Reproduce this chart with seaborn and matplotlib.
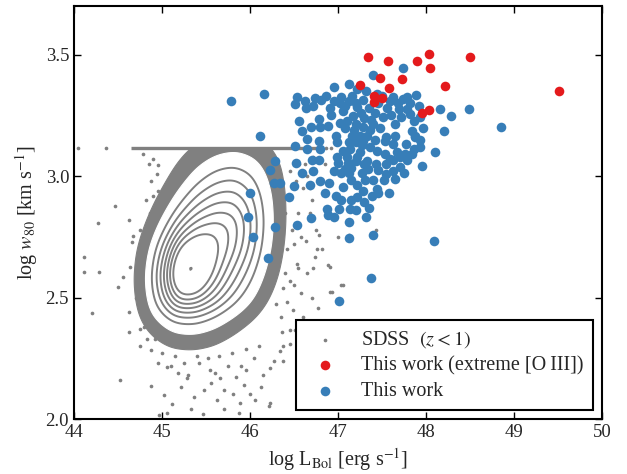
import numpy as np
import pandas as pd
import seaborn as sb
from matplotlib import pyplot as plt
from matplotlib.colors import ListedColormap
from matplotlib.patches import Rectangle

# ---- SDSS comparison sample (z < 1) ----
# binned counts of the dense core (rows = w80 bins)
sdss_grid_lbol = [44.8, 45.0, 45.2, 45.4, 45.6, 45.8, 46.0, 46.2, 46.4]
sdss_grid_w80 = [2.3, 2.4, 2.5, 2.6, 2.7, 2.8, 2.9, 3.0, 3.1]
sdss_counts = [
    [0, 1, 3, 4, 3, 1, 0, 0, 0],
    [3, 18, 45, 50, 35, 15, 4, 0, 0],
    [12, 85, 190, 180, 130, 80, 38, 7, 0],
    [18, 110, 250, 240, 170, 115, 70, 20, 1],
    [14, 80, 200, 215, 185, 150, 100, 34, 2],
    [5, 35, 105, 150, 165, 160, 110, 40, 3],
    [1, 12, 45, 90, 115, 120, 92, 36, 3],
    [0, 3, 16, 42, 65, 75, 60, 24, 2],
    [0, 1, 5, 14, 25, 30, 22, 8, 1],
]

# objects piled up at the w80 upper limit
sdss_cap_w80 = 3.114
sdss_cap_lbol_range = [44.65, 46.76]
sdss_cap_lbol_extra = [44.04, 44.36, 46.80, 46.86, 46.92]

# scattered SDSS objects outside the dense core
sdss_lbol = [44.47, 44.27, 44.11, 44.11, 44.28, 44.21, 44.50, 44.52, 44.62, 44.62,
             44.87, 44.75, 44.63, 44.97, 45.06, 44.75, 44.80, 44.80, 44.77, 44.94,
             44.84, 44.75, 44.67, 44.66, 44.75, 44.72, 44.80, 44.64, 44.75, 44.56,
             44.96, 44.94, 44.96, 44.85, 44.70, 44.82, 44.88, 44.90, 44.85, 44.78,
             46.27, 46.34, 46.45, 46.53, 46.23, 46.13, 46.00, 45.81, 45.66, 45.55,
             45.89, 46.23, 45.11, 45.36, 45.47, 45.70, 45.88, 46.06, 46.22, 45.22,
             45.56, 45.84, 45.06, 44.95, 46.15, 46.38, 44.88, 45.02, 45.28, 45.42,
             45.75, 45.95, 46.05, 45.15, 45.62, 45.33, 45.93, 45.48, 45.18, 45.70,
             46.64, 46.76, 46.91, 46.74, 47.06, 46.91, 47.00, 46.53, 46.45, 46.38,
             46.30, 46.49, 46.45, 46.38, 46.60, 46.60, 46.70, 46.55, 47.43, 47.12,
             46.89, 46.79, 46.75, 47.04, 46.93, 46.77, 46.51, 46.58, 46.65, 46.68,
             46.62, 46.72, 46.65,
             46.42, 46.48, 46.40, 46.46, 46.52, 46.56, 46.45, 46.50, 46.55, 46.42,
             46.35, 46.40, 46.58, 46.68, 46.85, 46.72, 46.82, 46.70, 46.50, 46.36,
             44.86, 44.88, 44.83, 44.86, 44.90, 44.92, 44.83, 44.90, 44.86, 44.92,
             45.00, 45.10, 45.25, 45.40, 45.52, 45.65, 45.80, 45.95, 46.10, 45.30,
             45.60, 45.90]
sdss_w80 = [2.878, 2.808, 2.668, 2.607, 2.607, 2.436, 2.542, 2.162, 2.820, 2.440,
            2.134, 2.300, 2.360, 2.018, 2.025, 2.370, 2.380, 2.480, 2.430, 2.865,
            2.800, 2.780, 2.755, 2.730, 2.690, 2.660, 2.660, 2.626, 2.605, 2.585,
            2.940, 3.010, 3.045, 2.550, 2.500, 2.900, 2.980, 3.070, 3.050, 3.090,
            2.240, 2.280, 2.310, 2.370, 2.210, 2.130, 2.105, 2.105, 2.170, 2.200,
            2.065, 2.065, 2.060, 2.090, 2.020, 2.040, 2.025, 2.080, 2.055, 2.130,
            2.150, 2.175, 2.216, 2.230, 2.180, 2.240, 2.285, 2.100, 2.170, 2.230,
            2.220, 2.200, 2.250, 2.260, 2.080, 2.040, 2.140, 2.120, 2.190, 2.120,
            2.735, 2.700, 2.626, 2.667, 2.550, 2.523, 2.750, 2.640, 2.570, 2.540,
            2.475, 2.450, 2.365, 2.300, 2.420, 2.950, 2.900, 2.850, 2.778, 2.757,
            2.634, 2.757, 2.778, 2.552, 2.525, 2.456, 2.367, 2.520, 2.600, 2.850,
            3.050, 3.080, 3.000,
            2.700, 2.780, 2.850, 2.920, 2.980, 3.050, 3.020, 2.720, 2.620, 2.480,
            2.420, 2.600, 2.750, 2.950, 3.050, 2.620, 2.700, 2.500, 2.550, 2.360,
            2.700, 2.620, 2.580, 2.450, 2.400, 2.330, 2.330, 2.920, 2.850, 2.780,
            2.270, 2.220, 2.230, 2.260, 2.250, 2.260, 2.270, 2.290, 2.300, 2.180,
            2.190, 2.220]

# ---- This work: extreme [O III] ----
red_lbol = [47.34, 47.57, 47.90, 48.03, 48.05, 48.50, 47.25, 47.48, 47.73,
            47.58, 47.41, 47.41, 47.50, 48.22, 47.95, 48.03, 49.51]
red_w80 = [3.491, 3.475, 3.473, 3.501, 3.446, 3.491, 3.376, 3.405, 3.400,
           3.361, 3.331, 3.304, 3.323, 3.372, 3.260, 3.272, 3.351]

# ---- This work ----
blue_lbol = [45.79, 46.16, 46.11, 47.74, 47.40, 46.95, 47.12, 46.54, 46.51, 46.64,
             46.74, 46.81, 46.91, 46.56, 46.59, 46.69, 46.78, 46.80, 46.65, 46.78,
             46.89, 46.51, 46.65, 46.99, 47.04, 47.16, 47.29, 47.22, 47.06, 47.17,
             47.10, 47.21, 47.29, 46.98, 47.16, 47.25, 47.33, 47.14, 47.25, 47.33,
             47.44, 47.40, 47.51, 47.59, 47.63, 47.74, 47.78, 47.89, 47.69, 47.78,
             47.72, 47.65, 47.82, 47.86, 47.55, 47.65, 47.53, 47.63, 47.84, 47.87,
             47.93, 47.67, 47.76, 47.86, 47.59, 47.95, 48.10, 48.20, 48.28, 48.16,
             48.49, 48.85, 47.93, 47.29, 47.10, 47.21, 46.99, 46.80, 46.28,
             46.23, 46.27, 46.34, 46.52, 46.50, 46.44, 46.53, 46.28, 46.69, 46.68,
             46.59, 46.70, 46.79, 46.85, 46.88, 46.89, 47.01, 47.00, 47.11, 47.03,
             47.12, 47.15, 47.06, 47.22, 47.31, 47.40, 47.45, 47.30, 47.22, 47.43,
             47.55, 47.63, 47.70, 47.75, 47.84, 47.77, 47.88, 47.93, 47.79, 47.54,
             47.06, 47.15, 47.14, 47.20, 47.30, 47.39, 47.32, 47.12, 47.12, 47.40,
             47.44, 47.22, 47.27, 47.15, 47.52, 47.45, 47.70, 48.09, 47.38, 47.01,
             46.00, 45.98, 46.03, 46.20,
             47.02, 47.08, 47.12, 47.20, 47.26, 47.30, 47.35, 47.38, 47.42, 47.46,
             47.48, 47.36, 47.18, 47.08, 47.02, 47.27, 47.36, 47.42, 47.20, 47.12,
             46.92, 46.86, 46.95, 46.72, 46.62, 47.56, 47.60, 47.68, 47.82, 47.92,
             47.97, 47.50, 47.44, 47.32, 47.22, 47.55, 47.62, 47.34, 47.08, 46.95,
             46.90, 46.98, 47.04, 46.96, 47.28, 47.35, 47.58, 47.65, 46.80, 46.72]
blue_w80 = [3.310, 3.340, 3.166, 3.446, 3.417, 3.368, 3.379, 3.324, 3.297, 3.280,
            3.320, 3.313, 3.280, 3.228, 3.187, 3.203, 3.235, 3.201, 3.153, 3.143,
            3.208, 3.125, 3.112, 3.139, 3.324, 3.331, 3.313, 3.283, 3.269, 3.249,
            3.228, 3.214, 3.201, 3.166, 3.166, 3.166, 3.166, 3.112, 3.098, 3.064,
            3.105, 3.214, 3.242, 3.310, 3.324, 3.317, 3.327, 3.335, 3.276, 3.276,
            3.242, 3.214, 3.256, 3.228, 3.160, 3.166, 3.146, 3.132, 3.187, 3.166,
            3.149, 3.098, 3.091, 3.112, 3.071, 3.043, 3.098, 3.187, 3.249, 3.275,
            3.276, 3.201, 3.242, 3.146, 3.078, 3.064, 3.078, 3.112, 3.064,
            3.027, 2.973, 2.973, 3.055, 2.960, 2.915, 2.799, 2.789, 2.829, 2.962,
            3.014, 3.066, 3.066, 2.929, 2.863, 2.840, 2.863, 3.055, 3.055, 3.011,
            3.011, 2.984, 2.956, 2.963, 2.984, 2.984, 3.025, 3.052, 3.079, 3.052,
            3.007, 3.066, 3.079, 3.011, 3.093, 3.134, 3.162, 3.121, 3.066, 3.093,
            3.104, 2.901, 2.863, 2.860, 2.892, 2.918, 2.833, 2.812, 2.747, 2.756,
            2.949, 2.915, 3.011, 3.032, 2.984, 2.929, 3.038, 2.732, 2.582, 2.484,
            2.932, 2.830, 2.749, 2.664,
            3.300, 3.290, 3.310, 3.300, 3.260, 3.240, 3.280, 3.230, 3.260, 3.300,
            3.200, 3.190, 3.190, 3.200, 3.220, 3.130, 3.120, 3.150, 3.140, 3.140,
            3.250, 3.330, 3.310, 3.290, 3.310, 3.280, 3.250, 3.300, 3.300, 3.290,
            3.200, 3.330, 3.340, 3.350, 3.360, 3.050, 3.020, 3.030, 3.030, 3.020,
            2.970, 2.920, 2.900, 2.830, 2.940, 2.870, 2.930, 2.990, 2.980, 3.020]

GRAY = "#808080"
RED = "#e41a1c"
BLUE = "#377eb8"

sb.set_style("ticks", {"xtick.direction": "in", "ytick.direction": "in"})
plt.rcParams["font.family"] = ["Liberation Serif", "DejaVu Serif"]
plt.rcParams["mathtext.fontset"] = "stix"

grid = pd.DataFrame(
    [(x, y, n) for y, row in zip(sdss_grid_w80, sdss_counts)
     for x, n in zip(sdss_grid_lbol, row)],
    columns=["lbol", "w80", "n"])
grid = grid[grid["n"] > 0].reset_index(drop=True)

fig = plt.figure(figsize=(6.27, 4.74), dpi=100)
ax = fig.add_axes([0.118, 0.116, 0.842, 0.871])
ax.set_xlim(44, 50)
ax.set_ylim(2.0, 3.7)


def sdss_kde(levels, fill, **kw):
    n0 = len(ax.collections)
    sb.kdeplot(x=grid["lbol"].to_numpy(), y=grid["w80"].to_numpy(),
               weights=grid["n"].to_numpy(), levels=levels, fill=fill,
               bw_adjust=0.7, gridsize=250, cut=4, ax=ax, **kw)
    new = ax.collections[n0:]
    if fill:
        for c in new:
            c.set_edgecolor(c.get_facecolor())
            c.set_linewidth(0.8)
            c.set_antialiased(True)
    return new


# dense SDSS cloud (clipped at the w80 limit)
clip = Rectangle((40, 1.0), 20, sdss_cap_w80 - 1.0, transform=ax.transData)
for c in sdss_kde([0.025, 1.0], True, cmap=ListedColormap([GRAY])):
    c.set_clip_path(clip)

ax.hlines(sdss_cap_w80, *sdss_cap_lbol_range, color=GRAY, lw=2.4, zorder=2)
sb.scatterplot(x=sdss_cap_lbol_extra, y=[sdss_cap_w80] * len(sdss_cap_lbol_extra),
               color=GRAY, s=7, linewidth=0, ax=ax)
sb.scatterplot(x=sdss_lbol, y=sdss_w80, color=GRAY, s=7, linewidth=0, ax=ax,
               label=r"SDSS  $(z<1)$")

# KDE contours on top of a white core
sdss_kde([0.1, 1.0], True, cmap=ListedColormap(["white"]))
sdss_kde([0.2, 0.3, 0.4, 0.5, 0.6, 0.7, 0.8, 0.9995], False,
         color=GRAY, linewidths=1.4)

sb.scatterplot(x=blue_lbol, y=blue_w80, color=BLUE, s=48, linewidth=0, ax=ax,
               label="This work", zorder=4)
sb.scatterplot(x=red_lbol, y=red_w80, color=RED, s=48, linewidth=0, ax=ax,
               label="This work (extreme [O\u2009III])", zorder=5)

ax.set_xticks([44, 45, 46, 47, 48, 49, 50])
ax.set_yticks([2.0, 2.5, 3.0, 3.5])
ax.set_yticklabels(["2.0", "2.5", "3.0", "3.5"])
ax.tick_params(top=True, right=True, direction="in", length=5, width=1,
               labelsize=13.5, color="black")
for sp in ax.spines.values():
    sp.set_linewidth(1.5)
    sp.set_color("black")
    sp.set_zorder(10)

ax.set_xlabel(r"log L$_{\rm Bol}$ [erg s$^{-1}$]", fontsize=14.5, labelpad=4)
ax.set_ylabel(r"log $w_{80}$ [km s$^{-1}$]", fontsize=14.5, labelpad=4)

handles, labels = ax.get_legend_handles_labels()
order = [labels.index(r"SDSS  $(z<1)$"),
         labels.index("This work (extreme [O\u2009III])"),
         labels.index("This work")]
leg = ax.legend([handles[i] for i in order], [labels[i] for i in order],
                loc="lower right", fontsize=14.5, frameon=True, fancybox=False,
                borderpad=0.45, handlelength=2.0, handletextpad=0.8,
                labelspacing=0.3, borderaxespad=0.45)
leg.get_frame().set_edgecolor("black")
leg.get_frame().set_linewidth(1.5)
leg.get_frame().set_alpha(1)
leg.set_zorder(20)

fig.savefig("out.png", dpi=100)
